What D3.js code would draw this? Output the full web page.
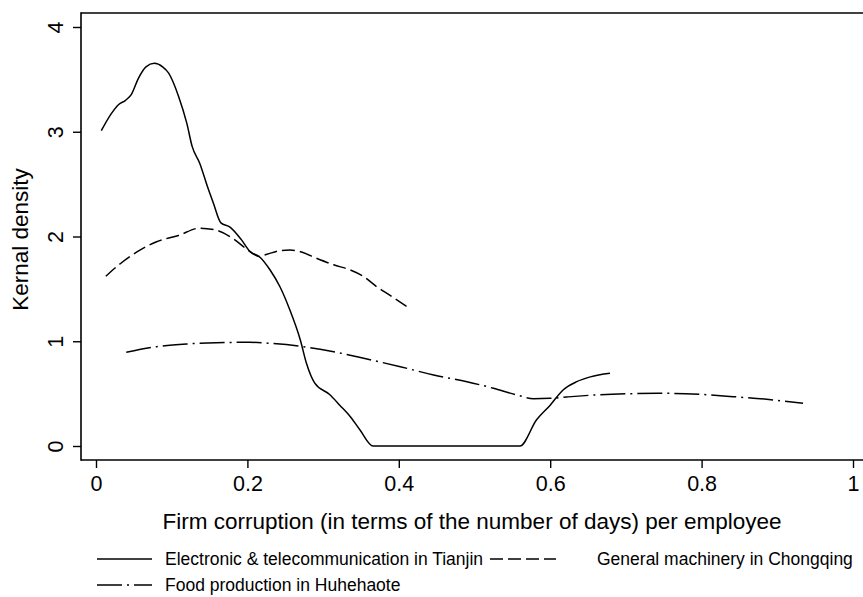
<!DOCTYPE html>
<html>
<head>
<meta charset="utf-8">
<script src="https://cdn.jsdelivr.net/npm/d3@7/dist/d3.min.js"></script>
<style>
  html, body { margin: 0; padding: 0; background: #fff; }
  svg { display: block; font-family: "Liberation Sans", Arial, Helvetica, sans-serif; }
</style>
</head>
<body>
<svg id="chart" width="863" height="597"></svg>
<script>
// ---- data ----
const tianjinX = [0.007, 0.02, 0.03, 0.039, 0.047, 0.056, 0.066, 0.077, 0.088, 0.096, 0.109, 0.12, 0.127, 0.137, 0.148, 0.155, 0.165, 0.177, 0.192, 0.203, 0.217, 0.23, 0.243, 0.256, 0.27, 0.278, 0.289, 0.309, 0.322, 0.336, 0.349, 0.366, 0.56, 0.582, 0.6, 0.617, 0.635, 0.653, 0.679];
const tianjinY = [3.01, 3.17, 3.26, 3.30, 3.36, 3.51, 3.62, 3.653, 3.62, 3.56, 3.34, 3.08, 2.86, 2.70, 2.46, 2.32, 2.13, 2.09, 1.97, 1.86, 1.80, 1.68, 1.52, 1.30, 1.01, 0.79, 0.60, 0.49, 0.39, 0.28, 0.15, 0, 0, 0.25, 0.39, 0.535, 0.614, 0.66, 0.694];

const chongqingX = [0.013, 0.032, 0.058, 0.08, 0.109, 0.137, 0.159, 0.181, 0.199, 0.216, 0.226, 0.243, 0.256, 0.27, 0.292, 0.314, 0.336, 0.353, 0.371, 0.388, 0.415];
const chongqingY = [1.62, 1.74, 1.87, 1.95, 2.01, 2.08, 2.06, 1.98, 1.88, 1.81, 1.83, 1.865, 1.87, 1.855, 1.79, 1.73, 1.68, 1.62, 1.52, 1.44, 1.31];

const huhehaoteX = [0.04, 0.08, 0.12, 0.159, 0.203, 0.23, 0.274, 0.314, 0.358, 0.402, 0.446, 0.49, 0.525, 0.556, 0.578, 0.6, 0.622, 0.666, 0.71, 0.754, 0.798, 0.842, 0.886, 0.934];
const huhehaoteY = [0.894, 0.948, 0.974, 0.986, 0.99, 0.98, 0.948, 0.90, 0.83, 0.757, 0.678, 0.614, 0.551, 0.487, 0.452, 0.455, 0.468, 0.49, 0.50, 0.503, 0.493, 0.471, 0.446, 0.408];

const seriesNames = ["Electronic & telecommunication in Tianjin", "General machinery in Chongqing", "Food production in Huhehaote"];
const xTicks = [0, 0.2, 0.4, 0.6, 0.8, 1];
const xTickLabels = ["0", "0.2", "0.4", "0.6", "0.8", "1"];
const yTicks = [0, 1, 2, 3, 4];
const yTickLabels = ["0", "1", "2", "3", "4"];
const xTitle = "Firm corruption (in terms of the number of days) per employee";
const yTitle = "Kernal density";

// ---- layout ----
const svg = d3.select("#chart");
const box = { left: 81, top: 13, right: 863, bottom: 460 };
const x = d3.scaleLinear().domain([0, 1]).range([96, 853]);
const y = d3.scaleLinear().domain([0, 4]).range([446, 27]);

const styles = [
  { dash: null },
  { dash: "13,5" },
  { dash: "25,5,2,5" }
];

// frame
svg.append("line").attr("x1", box.left).attr("x2", box.right).attr("y1", box.top).attr("y2", box.top)
  .attr("stroke", "#000").attr("stroke-width", 1.6);
svg.append("line").attr("x1", box.left).attr("x2", box.right).attr("y1", box.bottom).attr("y2", box.bottom)
  .attr("stroke", "#000").attr("stroke-width", 1.6);
svg.append("line").attr("x1", box.left).attr("x2", box.left).attr("y1", box.top - 0.8).attr("y2", box.bottom + 0.8)
  .attr("stroke", "#000").attr("stroke-width", 1.6);

// x axis
const gx = svg.append("g").attr("transform", `translate(0,${box.bottom})`)
  .call(d3.axisBottom(x).tickValues(xTicks).tickSize(8).tickPadding(8)
    .tickFormat((d, i) => xTickLabels[i]));
gx.select(".domain").remove();
gx.selectAll(".tick line").attr("stroke", "#000").attr("stroke-width", 1.4);
gx.selectAll(".tick text").attr("font-size", 21.5).attr("fill", "#000")
  .attr("font-family", '"Liberation Sans", Arial, sans-serif');

// y axis
const gy = svg.append("g").attr("transform", `translate(${box.left},0)`)
  .call(d3.axisLeft(y).tickValues(yTicks).tickSize(8)
    .tickFormat((d, i) => yTickLabels[i]));
gy.select(".domain").remove();
gy.selectAll(".tick line").attr("stroke", "#000").attr("stroke-width", 1.4);
gy.selectAll(".tick text")
  .attr("font-size", 21.5).attr("fill", "#000")
  .attr("font-family", '"Liberation Sans", Arial, sans-serif')
  .attr("transform", "rotate(-90)")
  .attr("x", 0).attr("y", -18).attr("dy", 0)
  .attr("text-anchor", "middle");

// axis titles
svg.append("text").attr("x", 472).attr("y", 529)
  .attr("text-anchor", "middle").attr("font-size", 22.5).attr("fill", "#000").text(xTitle);
svg.append("text").attr("transform", `translate(28,${(box.top + box.bottom) / 2 + 3}) rotate(-90)`)
  .attr("text-anchor", "middle").attr("font-size", 22.5).attr("fill", "#000").text(yTitle);

// lines
const line = d3.line().x(d => x(d[0])).y(d => y(d[1])).curve(d3.curveMonotoneX);
const series = [
  d3.zip(tianjinX, tianjinY),
  d3.zip(chongqingX, chongqingY),
  d3.zip(huhehaoteX, huhehaoteY)
];
series.forEach((s, i) => {
  svg.append("path").datum(s).attr("d", line)
    .attr("fill", "none").attr("stroke", "#000").attr("stroke-width", 1.5)
    .attr("stroke-dasharray", styles[i].dash);
});

// legend
const legendItems = [
  { x1: 97, x2: 152, tx: 165, y: 559 },
  { x1: 490, x2: 556, tx: 597, y: 559 },
  { x1: 97, x2: 152, tx: 165, y: 585 }
];
legendItems.forEach((it, i) => {
  svg.append("line").attr("x1", it.x1).attr("x2", it.x2).attr("y1", it.y).attr("y2", it.y)
    .attr("stroke", "#000").attr("stroke-width", 1.5).attr("stroke-dasharray", styles[i].dash);
  svg.append("text").attr("x", it.tx).attr("y", it.y + 6).attr("font-size", 17.5).attr("fill", "#000")
    .text(seriesNames[i]);
});
</script>
</body>
</html>
